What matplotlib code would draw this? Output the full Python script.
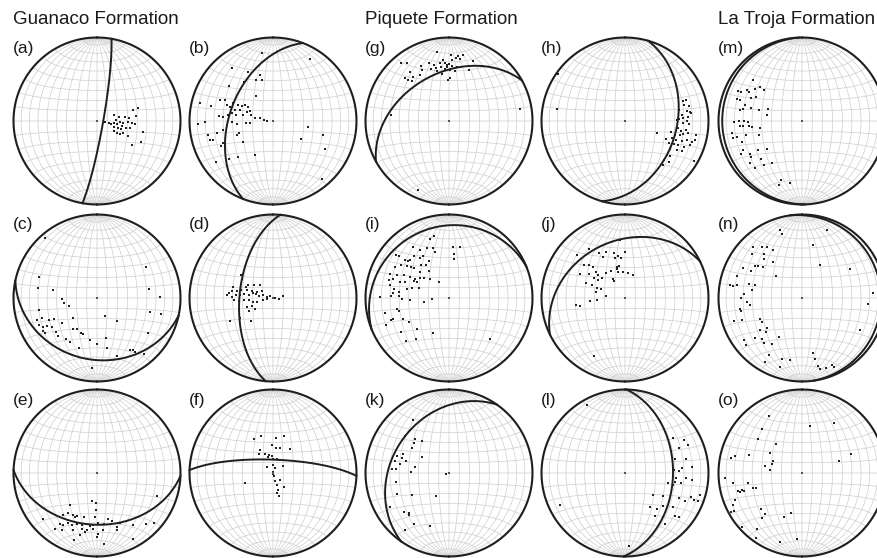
import numpy as np
import matplotlib.pyplot as plt

plt.rcParams['font.family'] = ['Liberation Sans', 'DejaVu Sans']

# figure size in pixels and net layout
W, H = 877, 558
R = 83.5
col_x = [97, 273, 449, 625, 802]
row_y = [121, 298, 473]

formations = ['Guanaco Formation', 'Piquete Formation', 'La Troja Formation']
formation_col = [0, 2, 4]

# lines as (trend, plunge) in degrees, lower hemisphere
a_pts = [(73,53),(73,47),(71,72),(79,68),(81,62),(84,58),(83,51),(99,82),(101,78),(102,76),(95,73),(99,70),(92,68),(94,64),(92,60),(94,55),(94,52),(110,72),(109,68),(109,65),(103,61),(102,57),(122,71),(120,67),(119,64),(114,62),(115,56),(104,43),(125,48),(115,41),(87,71),(101,65)]
b_pts = [(351,19),(31,14),(322,21),(333,34),(344,42),(345,48),(323,41),(337,46),(309,33),(326,61),(284,11),(284,25),(291,32),(294,37),(289,41),(288,45),(294,47),(295,52),(295,56),(300,58),(299,62),(286,51),(289,56),(290,63),(294,65),(275,35),(275,40),(278,45),(281,49),(279,53),(281,60),(286,68),(278,72),(282,77),(276,81),(273,84),(268,11),(269,20),(269,49),(266,54),(265,63),(266,67),(258,22),(258,32),(260,39),(250,54),(249,52),(253,22),(252,26),(244,31),(246,35),(235,54),(100,55),(123,57),(106,38),(118,30),(229,31),(224,40),(234,17),(208,52),(140,10)]
c_pts = [(319,6),(58,31),(290,27),(280,29),(280,46),(80,37),(268,55),(262,57),(254,61),(89,26),(258,30),(105,35),(104,22),(156,71),(139,60),(250,25),(250,31),(245,37),(244,42),(245,25),(242,28),(241,32),(237,36),(239,25),(236,26),(230,36),(234,47),(230,59),(217,51),(213,53),(205,52),(202,52),(226,35),(211,38),(217,38),(190,48),(180,44),(167,49),(169,39),(125,27),(200,36),(148,27),(145,25),(145,22),(140,14),(161,27),(184,17)]
d_pts = [(305,51),(301,54),(286,49),(292,61),(297,63),(304,68),(315,72),(277,46),(280,49),(281,54),(284,58),(287,63),(288,68),(291,73),(304,77),(274,44),(272,49),(274,53),(275,57),(277,61),(277,66),(283,70),(282,73),(280,76),(287,80),(280,84),(300,87),(80,88),(99,84),(79,80),(267,51),(265,56),(266,61),(265,66),(260,70),(255,74),(258,80),(260,84),(252,63),(250,68),(239,69),(242,63),(242,41),(238,52),(223,59)]
e_pts = [(191,62),(181,61),(220,48),(181,53),(111,24),(216,41),(210,41),(207,41),(205,43),(230,16),(219,35),(197,44),(183,46),(166,43),(163,40),(216,25),(213,27),(210,31),(206,31),(202,35),(196,35),(192,38),(188,36),(184,38),(179,40),(172,38),(160,32),(155,34),(145,25),(136,16),(131,10),(217,17),(212,21),(203,27),(195,31),(192,29),(190,31),(184,33),(179,28),(174,32),(161,29),(180,24),(195,24),(199,16),(151,11),(174,16)]
f_pts = [(331,51),(342,52),(5,55),(16,52),(357,63),(7,65),(16,65),(36,61),(331,64),(325,67),(337,70),(349,72),(356,73),(343,74),(1,76),(15,76),(315,82),(358,82),(23,85),(54,78),(346,89),(162,89),(167,87),(165,82),(135,80),(250,61),(160,78),(143,73),(163,73),(170,70),(165,67)]
g_pts = [(350,17),(2,22),(8,22),(12,20),(354,27),(3,28),(6,25),(10,26),(22,24),(320,11),(324,15),(341,28),(345,31),(351,30),(356,31),(358,33),(0,32),(333,27),(341,34),(346,35),(352,35),(358,35),(3,34),(8,35),(321,26),(332,32),(347,38),(356,38),(1,39),(7,39),(21,35),(314,27),(321,32),(328,35),(352,43),(1,47),(315,31),(317,35),(358,49),(276,31),(80,15),(204,10)]
h_pts = [(305,2),(280,19),(71,28),(71,24),(75,28),(77,23),(79,34),(81,26),(82,22),(84,32),(87,31),(86,25),(83,21),(89,38),(88,35),(90,27),(92,31),(93,24),(110,56),(103,43),(98,36),(100,32),(98,27),(106,38),(104,33),(103,29),(101,24),(101,14),(114,45),(110,40),(110,35),(109,29),(107,24),(107,17),(105,14),(117,41),(115,36),(114,31),(114,24),(110,18),(122,36),(119,30),(118,24),(129,36),(128,32),(135,35),(133,29),(139,31),(120,5)]
i_pts = [(346,25),(342,27),(325,26),(329,33),(336,35),(342,37),(343,42),(4,39),(12,38),(7,46),(7,51),(309,19),(310,23),(311,31),(312,34),(314,35),(320,35),(324,40),(328,41),(332,48),(300,26),(305,31),(307,37),(310,41),(311,44),(320,47),(326,50),(312,52),(324,57),(292,25),(294,32),(297,39),(299,46),(299,52),(304,55),(309,58),(315,64),(287,26),(289,30),(288,38),(290,43),(296,51),(297,55),(328,72),(282,28),(279,34),(275,33),(277,40),(282,47),(285,52),(288,59),(271,19),(272,31),(272,40),(269,43),(267,51),(262,65),(267,73),(258,36),(255,38),(257,22),(249,29),(246,39),(239,43),(247,19),(249,26),(235,30),(226,46),(205,52),(225,28),(219,37),(135,31)]
j_pts = [(355,31),(324,28),(330,38),(338,40),(346,44),(351,48),(0,44),(312,24),(332,44),(346,49),(354,50),(309,37),(312,41),(314,46),(345,58),(350,58),(298,39),(303,47),(312,52),(310,55),(322,59),(332,60),(344,60),(345,64),(356,64),(7,65),(18,66),(303,53),(304,58),(310,60),(329,68),(327,70),(291,49),(292,55),(289,61),(290,65),(281,61),(277,71),(265,55),(266,62),(262,40),(260,45),(208,22)]
k_pts = [(326,24),(310,32),(315,42),(320,48),(310,44),(304,45),(293,40),(288,35),(288,40),(286,46),(282,34),(280,40),(274,32),(274,37),(271,52),(280,56),(252,87),(260,36),(248,33),(240,47),(210,64),(240,19),(229,30),(225,33),(224,31),(215,27),(200,33),(218,15),(301,59)]
l_pts = [(331,7),(244,14),(61,20),(66,18),(54,29),(65,30),(74,38),(77,26),(85,32),(88,35),(86,41),(85,21),(96,38),(95,28),(100,39),(100,32),(103,46),(104,40),(96,20),(106,7),(128,55),(121,46),(115,29),(115,22),(110,17),(111,12),(111,7),(143,48),(139,42),(131,39),(125,30),(131,22),(129,18),(145,37),(142,23),(177,13)]
m_pts = [(310,24),(295,16),(295,20),(299,25),(299,28),(304,33),(309,36),(310,41),(294,33),(297,38),(289,19),(289,23),(286,30),(282,29),(284,37),(285,46),(289,55),(280,25),(280,55),(269,20),(270,25),(270,31),(269,36),(265,26),(265,30),(265,36),(263,39),(260,48),(260,16),(256,21),(256,32),(252,45),(251,25),(256,16),(244,23),(238,27),(235,26),(237,37),(231,45),(242,18),(231,21),(227,33),(216,38),(225,21),(221,31),(200,26),(191,25),(200,19)]
n_pts = [(342,16),(343,21),(20,15),(12,35),(316,17),(311,21),(322,24),(326,27),(329,34),(319,31),(316,35),(321,44),(297,22),(298,31),(304,32),(306,35),(309,40),(29,53),(59,34),(289,19),(310,57),(280,13),(280,17),(281,22),(285,35),(286,41),(279,39),(274,31),(270,28),(266,34),(262,37),(260,25),(258,26),(251,15),(250,25),(244,43),(239,44),(233,37),(227,40),(229,44),(210,45),(230,27),(234,15),(224,32),(220,30),(230,13),(213,34),(210,22),(210,13),(198,24),(191,25),(198,14),(169,33),(168,26),(167,17),(166,13),(161,12),(156,13),(155,10),(86,16),(95,22),(119,22)]
o_pts = [(330,22),(9,42),(33,30),(318,30),(308,34),(318,51),(302,53),(284,19),(282,14),(289,33),(293,59),(286,59),(280,53),(275,58),(69,37),(72,51),(266,9),(262,18),(259,35),(253,39),(252,42),(254,21),(253,23),(254,26),(253,28),(248,14),(245,10),(241,7),(241,3),(229,35),(222,34),(222,29),(196,49),(202,43),(228,3),(219,15),(198,14),(184,22),(215,5)]

# mean planes as (dip direction, dip)
planes = {'a': (100, 84), 'b': (291, 47), 'c': (192, 27), 'd': (275, 57),
          'e': (182, 38), 'f': (2, 77), 'g': (331, 42), 'h': (106, 38),
          'i': (338, 15), 'j': (334, 32), 'k': (305, 32), 'l': (91, 42),
          'm': (268, 5), 'n': (82, 6), 'o': None}

panels = [('a', 0, 0, a_pts), ('b', 1, 0, b_pts), ('c', 0, 1, c_pts),
          ('d', 1, 1, d_pts), ('e', 0, 2, e_pts), ('f', 1, 2, f_pts),
          ('g', 2, 0, g_pts), ('h', 3, 0, h_pts), ('i', 2, 1, i_pts),
          ('j', 3, 1, j_pts), ('k', 2, 2, k_pts), ('l', 3, 2, l_pts),
          ('m', 4, 0, m_pts), ('n', 4, 1, n_pts), ('o', 4, 2, o_pts)]


def line_to_lonlat(trend, plunge):
    t = np.radians(trend)
    p = np.radians(plunge)
    e = np.cos(p) * np.sin(t)
    n = np.cos(p) * np.cos(t)
    d = np.sin(p)
    return np.arctan2(e, d), np.arcsin(np.clip(n, -1, 1))


def plane_to_lonlat(dipdir, dip):
    t = np.linspace(0, np.pi, 361)
    st = np.radians(dipdir - 90)
    dd = np.radians(dipdir)
    dp = np.radians(dip)
    s = np.array([np.sin(st), np.cos(st), 0.0])
    v = np.array([np.cos(dp) * np.sin(dd), np.cos(dp) * np.cos(dd), np.sin(dp)])
    u = np.outer(np.cos(t), s) + np.outer(np.sin(t), v)
    return np.arctan2(u[:, 0], u[:, 2]), np.arcsin(np.clip(u[:, 1], -1, 1))


fig = plt.figure(figsize=(W / 100, H / 100), dpi=100)
half = R * np.sqrt(2)
span = np.radians(np.linspace(-90, 90, 181))

for name, c, r, pts in panels:
    cx, cy = col_x[c], row_y[r]
    ax = fig.add_axes([(cx - half) / W, 1 - (cy + half) / H, 2 * half / W, 2 * half / H],
                      projection='lambert')
    ax.patch.set_visible(False)
    ax.spines['geo'].set_visible(False)
    ax.grid(False)
    ax.set_xticks([])
    ax.set_yticks([])

    # equal-area net, 10 degree grid
    for k in range(-80, 81, 10):
        ax.plot(np.full_like(span, np.radians(k)), span, color='#cdcdcd', lw=0.5, zorder=1)
        ax.plot(span, np.full_like(span, np.radians(k)), color='#cdcdcd', lw=0.5, zorder=1)
    for side in (-90, 90):
        ax.plot(np.full_like(span, np.radians(side)), span, color='#1e1e1e', lw=1.5, zorder=3)

    if planes[name] is not None:
        glon, glat = plane_to_lonlat(*planes[name])
        ax.plot(glon, glat, color='#1e1e1e', lw=1.4, zorder=3)

    tr = np.array([p[0] for p in pts])
    pl = np.array([p[1] for p in pts])
    lon, lat = line_to_lonlat(tr, pl)
    ax.plot(lon, lat, 's', ms=2.1, mew=0, color='#222222', zorder=4)
    ax.plot([0], [0], 's', ms=2.1, mew=0, color='#555555', zorder=4)

    fig.text((cx - 84) / W, 1 - (cy - 73) / H, f'({name})', fontsize=12.5,
             color='#1a1a1a', ha='left', va='center')

for title, c in zip(formations, formation_col):
    fig.text((col_x[c] - 84) / W, 1 - 20 / H, title, fontsize=13.5,
             color='#1a1a1a', ha='left', va='center')

fig.savefig('out.png', dpi=100)
